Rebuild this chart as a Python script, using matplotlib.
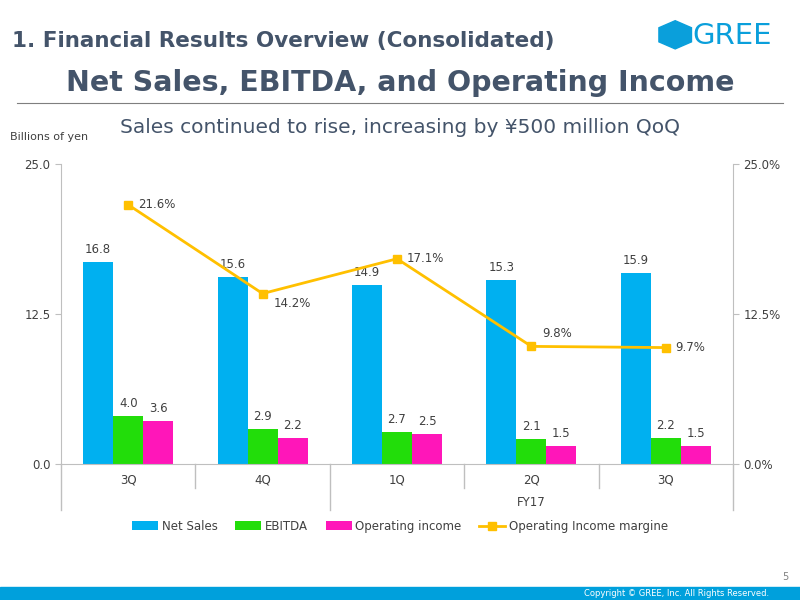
import matplotlib.pyplot as plt
import numpy as np
from matplotlib.patches import RegularPolygon, Rectangle
from matplotlib.lines import Line2D

# data
quarters = ['3Q', '4Q', '1Q', '2Q', '3Q']
net_sales = [16.8, 15.6, 14.9, 15.3, 15.9]
ebitda = [4.0, 2.9, 2.7, 2.1, 2.2]
op_income = [3.6, 2.2, 2.5, 1.5, 1.5]
op_margin = [21.6, 14.2, 17.1, 9.8, 9.7]

c_sales = '#00B0F0'
c_ebitda = '#22DD0A'
c_op = '#FF16B9'
c_line = '#FFC000'
c_txt = '#404040'
c_title = '#44546A'
c_axis = '#BFBFBF'

fig = plt.figure(figsize=(8, 6), dpi=100)

# header
fig.text(0.015, 0.931, '1. Financial Results Overview (Consolidated)', fontsize=15.5,
         fontweight='bold', color=c_title, va='center')
fig.text(0.5, 0.862, 'Net Sales, EBITDA, and Operating Income', fontsize=20.5,
         fontweight='bold', color=c_title, ha='center', va='center')
fig.add_artist(Line2D([0.021, 0.979], [0.828, 0.828], color='#7F7F7F', lw=0.8))
fig.text(0.5, 0.788, 'Sales continued to rise, increasing by ¥500 million QoQ', fontsize=14.5,
         color=c_title, ha='center', va='center')
fig.text(0.012, 0.771, 'Billions of yen', fontsize=8, color=c_txt, va='center')

# logo
fig.add_artist(RegularPolygon((0.844, 0.942), numVertices=6, radius=0.0235,
                              orientation=0, color='#0A9FDB', transform=fig.transFigure))
fig.text(0.865, 0.940, 'GREE', fontsize=21, color='#0A9FDB', va='center')

# footer
fig.add_artist(Rectangle((0, 0), 1, 0.022, color='#00A0DC', transform=fig.transFigure))
fig.text(0.962, 0.011, 'Copyright © GREE, Inc. All Rights Reserved.', fontsize=6,
         color='white', ha='right', va='center')
fig.text(0.986, 0.038, '5', fontsize=7, color='#808080', ha='right', va='center')

# chart
ax = fig.add_axes([0.07625, 0.2267, 0.84, 0.5])
x = np.arange(len(quarters))
w = 0.223
b1 = ax.bar(x - w, net_sales, w, color=c_sales, label='Net Sales')
b2 = ax.bar(x, ebitda, w, color=c_ebitda, label='EBITDA')
b3 = ax.bar(x + w, op_income, w, color=c_op, label='Operating income')
for bars in (b1, b2, b3):
    for r in bars:
        ax.text(r.get_x() + r.get_width() / 2, r.get_height() + 0.5,
                f'{r.get_height():.1f}', ha='center', va='bottom', fontsize=8.5, color=c_txt)

ax.set_xlim(-0.5, len(quarters) - 0.5)
ax.set_ylim(0, 25)
ax.set_yticks([0, 12.5, 25])
ax.set_yticklabels(['0.0', '12.5', '25.0'])
ax.set_xticks([])
for s in ['top', 'right']:
    ax.spines[s].set_visible(False)
ax.spines['left'].set_color(c_axis)
ax.spines['bottom'].set_color(c_axis)
ax.tick_params(axis='y', colors=c_txt, labelsize=8.5, length=4, color=c_axis)

ax2 = ax.twinx()
ln, = ax2.plot(x, op_margin, color=c_line, lw=2, marker='s', markersize=6,
               label='Operating Income margine')
ax2.set_ylim(0, 25)
ax2.set_yticks([0, 12.5, 25])
ax2.set_yticklabels(['0.0%', '12.5%', '25.0%'])
for s in ['top', 'left', 'bottom']:
    ax2.spines[s].set_visible(False)
ax2.spines['right'].set_color(c_axis)
ax2.tick_params(axis='y', colors=c_txt, labelsize=8.5, length=4, color=c_axis)

offsets = [(7, 0), (8, -7), (7, 0), (8, 9), (7, 0)]
for xi, v, off in zip(x, op_margin, offsets):
    ax2.annotate(f'{v:.1f}%', (xi, v), xytext=off, textcoords='offset points',
                 fontsize=8.5, color=c_txt, va='center', ha='left')

# category axis below
for xi, q in zip(x, quarters):
    ax.text(xi, -1.35, q, ha='center', va='center', fontsize=8.5, color=c_txt)
ax.text(3, -3.2, 'FY17', ha='center', va='center', fontsize=8.5, color=c_txt)
for b in np.arange(-0.5, len(quarters), 1.0):
    low = -3.8 if b in (-0.5, 1.5, 4.5) else -2.0
    ax.plot([b, b], [0, low], color=c_axis, lw=1, clip_on=False)

handles = [b1, b2, b3, ln]
fig.legend(handles, [h.get_label() for h in handles], loc='center',
           bbox_to_anchor=(0.5, 0.123), ncol=4, frameon=False, fontsize=8.5,
           handlelength=2.2, handletextpad=0.3, columnspacing=1.5, labelcolor=c_txt)

fig.savefig('out.png', dpi=100)
